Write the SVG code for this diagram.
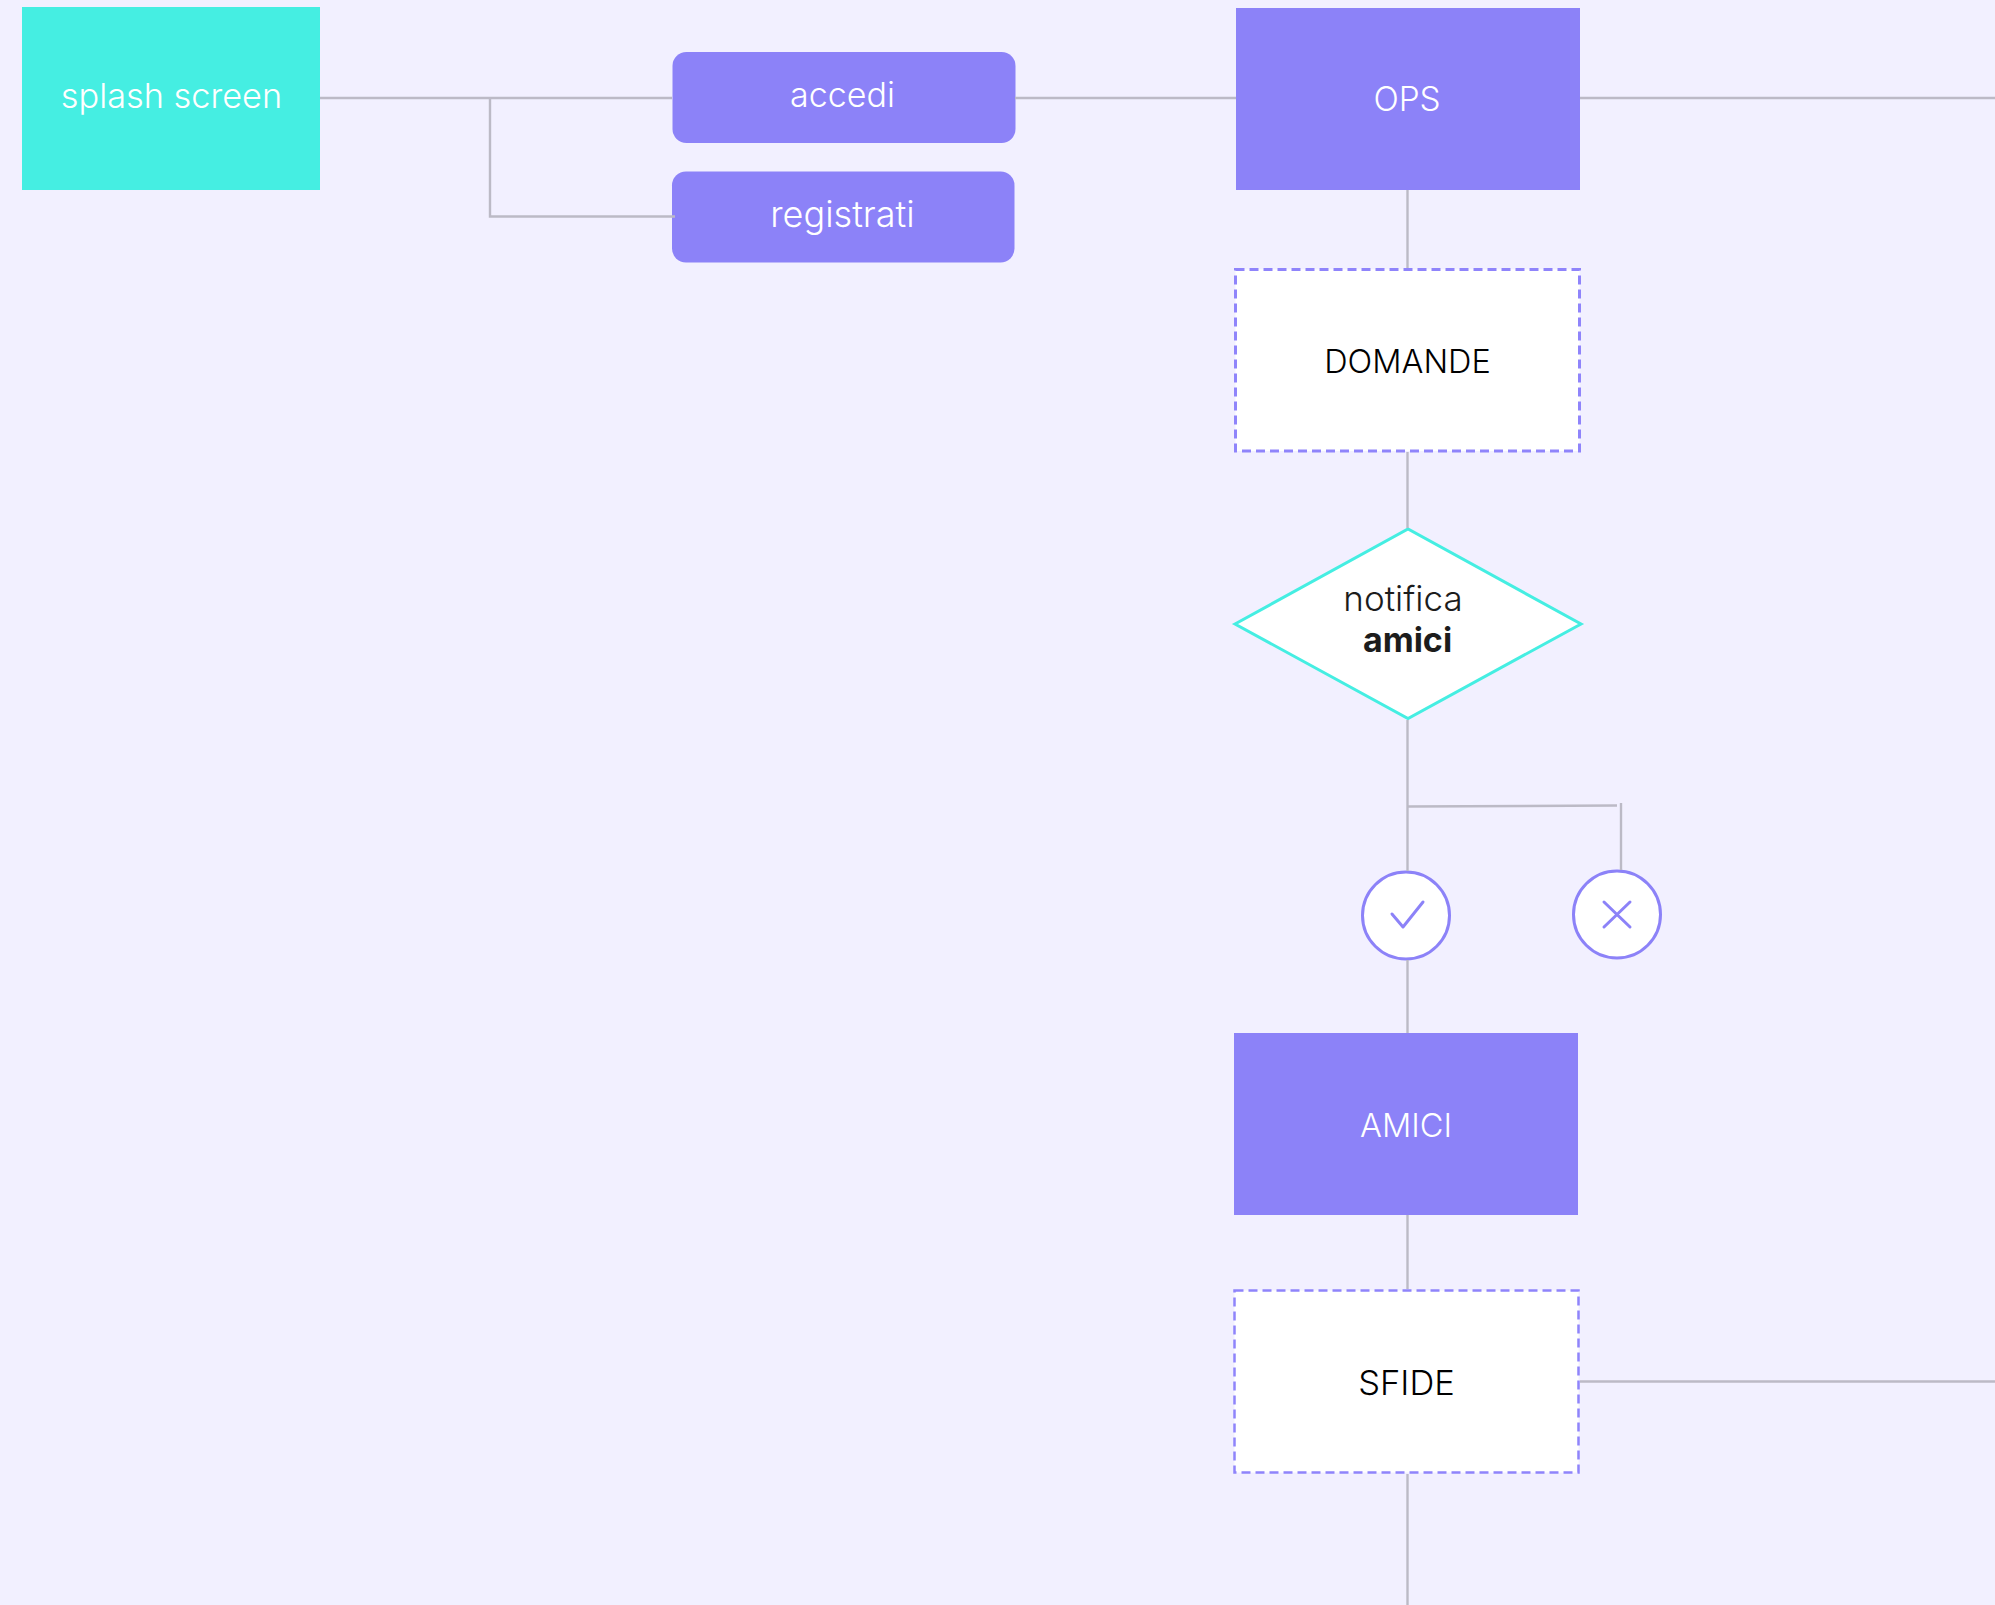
<svg xmlns="http://www.w3.org/2000/svg" width="1995" height="1605" viewBox="0 0 1995 1605">
<style>
.l{fill:none;stroke:#bcbac6;stroke-width:2.400}
.t{font-family:Inter,"Noto Sans",sans-serif;font-size:33px;font-weight:300;text-anchor:middle}
.w{fill:#fff}
.k{fill:#000}
.d{fill:#1c1c1c}
.p{fill:#8c82f8}
.dash{fill:#fff;stroke:#8f84fb;stroke-width:3;stroke-dasharray:9 5}
.c{fill:#fff;stroke:#8c82f8;stroke-width:3}
.i{fill:none;stroke:#8c82f8;stroke-width:3;stroke-linecap:round;stroke-linejoin:round}
</style>
<rect width="1995" height="1605" fill="#f2f0ff"/>
<g id="splash"><rect x="22" y="7" width="298" height="183" fill="#45eee2"/><text class="t w" x="171.500" y="108" style="font-size:34.300px">splash screen</text></g>
<g id="accedi"><rect class="p" x="672.500" y="52" width="343" height="91" rx="14"/><text class="t w" x="842.500" y="107" style="font-size:34px">accedi</text></g>
<g id="registrati"><rect class="p" x="672" y="171.500" width="342.500" height="91" rx="14"/><text class="t w" x="842.500" y="226.500" style="font-size:36px">registrati</text></g>
<g id="ops"><rect class="p" x="1236" y="8" width="344" height="182"/><text class="t w" x="1407" y="110.500" style="font-size:33.300px">OPS</text></g>
<g id="domande"><rect class="dash" x="1235.500" y="269.500" width="344" height="181.500"/><text class="t k" x="1407.500" y="372.500" style="font-size:32.500px">DOMANDE</text></g>
<g id="notifica"><polygon points="1235,624 1408,529 1581,624 1408,718.500" fill="#fff" stroke="#45eee2" stroke-width="3"/><text class="t d" x="1403" y="610.500" style="font-size:35px">notifica</text><text class="t d" x="1407.500" y="651.500" style="font-size:34px;font-weight:700">amici</text></g>
<g id="yes"><circle class="c" cx="1406" cy="915.500" r="43.500"/><path class="i" d="M1392 914L1403 927L1423 902"/></g>
<g id="no"><circle class="c" cx="1617" cy="914.500" r="43.500"/><path class="i" d="M1604 902L1630 927M1630 902L1604 927"/></g>
<g id="amici"><rect class="p" x="1234" y="1033" width="344" height="182"/><text class="t w" x="1406" y="1136.500" style="font-size:32.500px">AMICI</text></g>
<g id="sfide"><rect class="dash" x="1234.500" y="1290.500" width="344" height="182" style="stroke-width:2.500"/><text class="t k" x="1406.500" y="1394.500" style="font-size:34.500px">SFIDE</text></g>
<g id="connectors">
<path class="l" d="M320 98H672"/>
<path class="l" d="M490 98V216.500H675"/>
<path class="l" d="M1015 98H1236"/>
<path class="l" d="M1580 98H1995"/>
<path class="l" d="M1407.500 190V268"/>
<path class="l" d="M1407.500 452V528"/>
<path class="l" d="M1407.500 720V871"/>
<path class="l" d="M1408 806.500L1617 805.500"/>
<path class="l" d="M1621 803V870"/>
<path class="l" d="M1407.500 960V1033"/>
<path class="l" d="M1407.500 1215V1289"/>
<path class="l" d="M1407.500 1474V1605"/>
<path class="l" d="M1580 1381.500H1995"/>
</g>
</svg>
